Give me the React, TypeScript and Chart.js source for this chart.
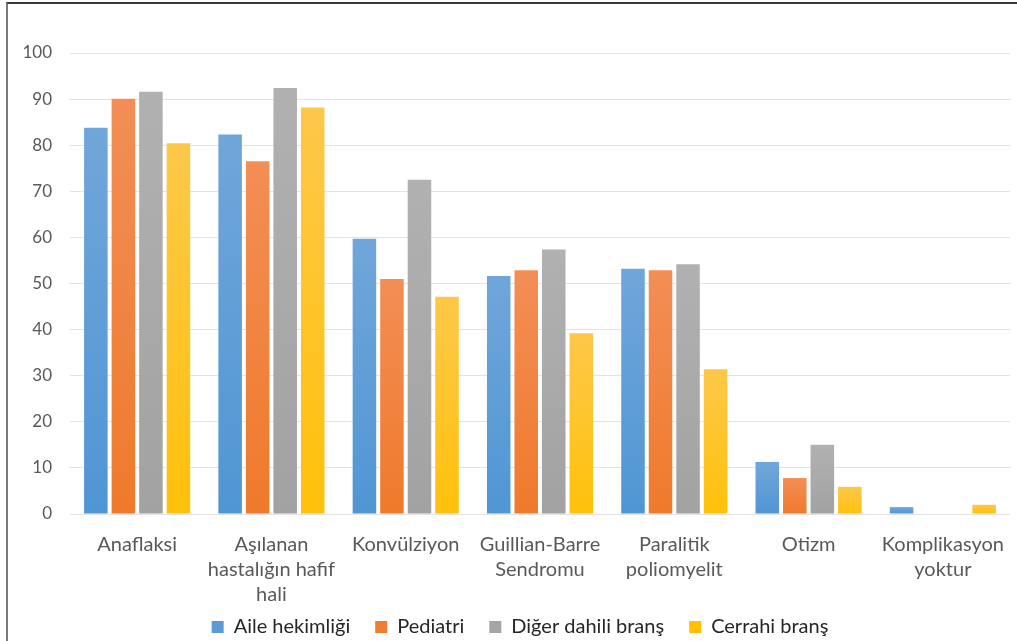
import React, { useEffect, useRef } from "react";
import { Chart, registerables } from "chart.js";

Chart.register(...registerables);

const categories: (string | string[])[] = [
  "Anaflaksi",
  ["Aşılanan", "hastalığın hafif", "hali"],
  "Konvülziyon",
  ["Guillian-Barre", "Sendromu"],
  ["Paralitik", "poliomyelit"],
  "Otizm",
  ["Komplikasyon", "yoktur"],
];

const aileHekimligi = [83.8, 82.3, 59.7, 51.6, 53.2, 11.3, 1.5];
const pediatri = [90.1, 76.5, 51.0, 52.9, 52.9, 7.8, 0];
const digerDahili = [91.6, 92.4, 72.5, 57.4, 54.2, 15.0, 0];
const cerrahi = [80.4, 88.2, 47.1, 39.2, 31.4, 5.9, 2.0];

const yTicks = [0, 10, 20, 30, 40, 50, 60, 70, 80, 90, 100];

const FONT = "Lato, 'Open Sans', sans-serif";

function gradientFill(top: string, bottom: string) {
  return (ctx: any) => {
    const chart = ctx.chart;
    const y = chart.scales && chart.scales.y;
    if (!y || ctx.type !== "data" || ctx.raw == null) return bottom;
    const y0 = y.getPixelForValue(ctx.raw);
    const y1 = y.getPixelForValue(0);
    if (!isFinite(y0) || !isFinite(y1) || y1 - y0 < 1) return bottom;
    const g = chart.ctx.createLinearGradient(0, y0, 0, y1);
    g.addColorStop(0, top);
    g.addColorStop(1, bottom);
    return g;
  };
}

const layoutTweak = {
  id: "layoutTweak",
  afterLayout(chart: any) {
    const x = chart.scales.x;
    if (x) x.bottom = chart.height;
    const lg = chart.legend;
    if (lg) {
      lg.top += 6;
      lg.bottom += 6;
      lg.left += 15;
      lg.right += 15;
    }
  },
};

export default function App() {
  const canvasRef = useRef<HTMLCanvasElement | null>(null);

  useEffect(() => {
    if (!canvasRef.current) return;
    const chart = new Chart(canvasRef.current, {
      type: "bar",
      data: {
        labels: categories,
        datasets: [
          {
            label: "Aile hekimliği",
            data: aileHekimligi,
            backgroundColor: gradientFill("#70a6da", "#5096d4"),
          },
          {
            label: "Pediatri",
            data: pediatri,
            backgroundColor: gradientFill("#f38e56", "#ef7a2b"),
          },
          {
            label: "Diğer dahili branş",
            data: digerDahili,
            backgroundColor: gradientFill("#b1b1b1", "#a2a2a2"),
          },
          {
            label: "Cerrahi branş",
            data: cerrahi,
            backgroundColor: gradientFill("#fdc84a", "#ffc10a"),
          },
        ] as any,
      },
      plugins: [layoutTweak],
      options: {
        responsive: false,
        animation: false,
        layout: { padding: { left: 0, right: 7, top: 53, bottom: 0 } },
        datasets: {
          bar: { categoryPercentage: 0.82, barPercentage: 0.855 },
        } as any,
        plugins: {
          legend: {
            position: "bottom",
            labels: {
              boxWidth: 12,
              boxHeight: 12,
              padding: 25,
              color: "#262626",
              font: { family: FONT, size: 20 },
              generateLabels: (c: any) => {
                const colors = ["#5b9bd5", "#ed7d31", "#a5a5a5", "#ffc000"];
                return c.data.datasets.map((d: any, i: number) => ({
                  text: d.label,
                  fillStyle: colors[i],
                  strokeStyle: colors[i],
                  lineWidth: 0,
                  hidden: false,
                  datasetIndex: i,
                  fontColor: "#262626",
                }));
              },
            },
          },
          tooltip: { enabled: false },
        },
        scales: {
          x: {
            grid: { display: false },
            border: { display: false },
            ticks: {
              color: "#595959",
              font: { family: FONT, size: 20, lineHeight: 1.25 },
              maxRotation: 0,
              autoSkip: false,
              padding: 10,
            },
            afterFit: (s: any) => {
              s.height = 72;
            },
          },
          y: {
            min: 0,
            max: 100,
            afterBuildTicks: (s: any) => {
              s.ticks = yTicks.map((v) => ({ value: v }));
            },
            grid: { color: "#e3e3e3", lineWidth: 1, drawTicks: false },
            border: { display: false },
            ticks: {
              color: "#595959",
              font: { family: FONT, size: 17 },
              padding: 18,
            },
            afterFit: (s: any) => {
              s.width = 70;
            },
          },
        },
      } as any,
    });
    return () => chart.destroy();
  }, []);

  return (
    <div
      style={{
        position: "absolute",
        left: 0,
        top: 0,
        width: 1017,
        height: 641,
        background: "#ffffff",
        overflow: "hidden",
      }}
    >
      <div
        style={{
          position: "absolute",
          left: 6,
          top: 2,
          right: 0,
          bottom: 0,
          borderLeft: "2px solid #7a7a7a",
          borderTop: "2px solid #3a3a3a",
        }}
      />
      <canvas
        ref={canvasRef}
        width={1017}
        height={641}
        style={{ position: "absolute", left: 0, top: 0 }}
      />
    </div>
  );
}
